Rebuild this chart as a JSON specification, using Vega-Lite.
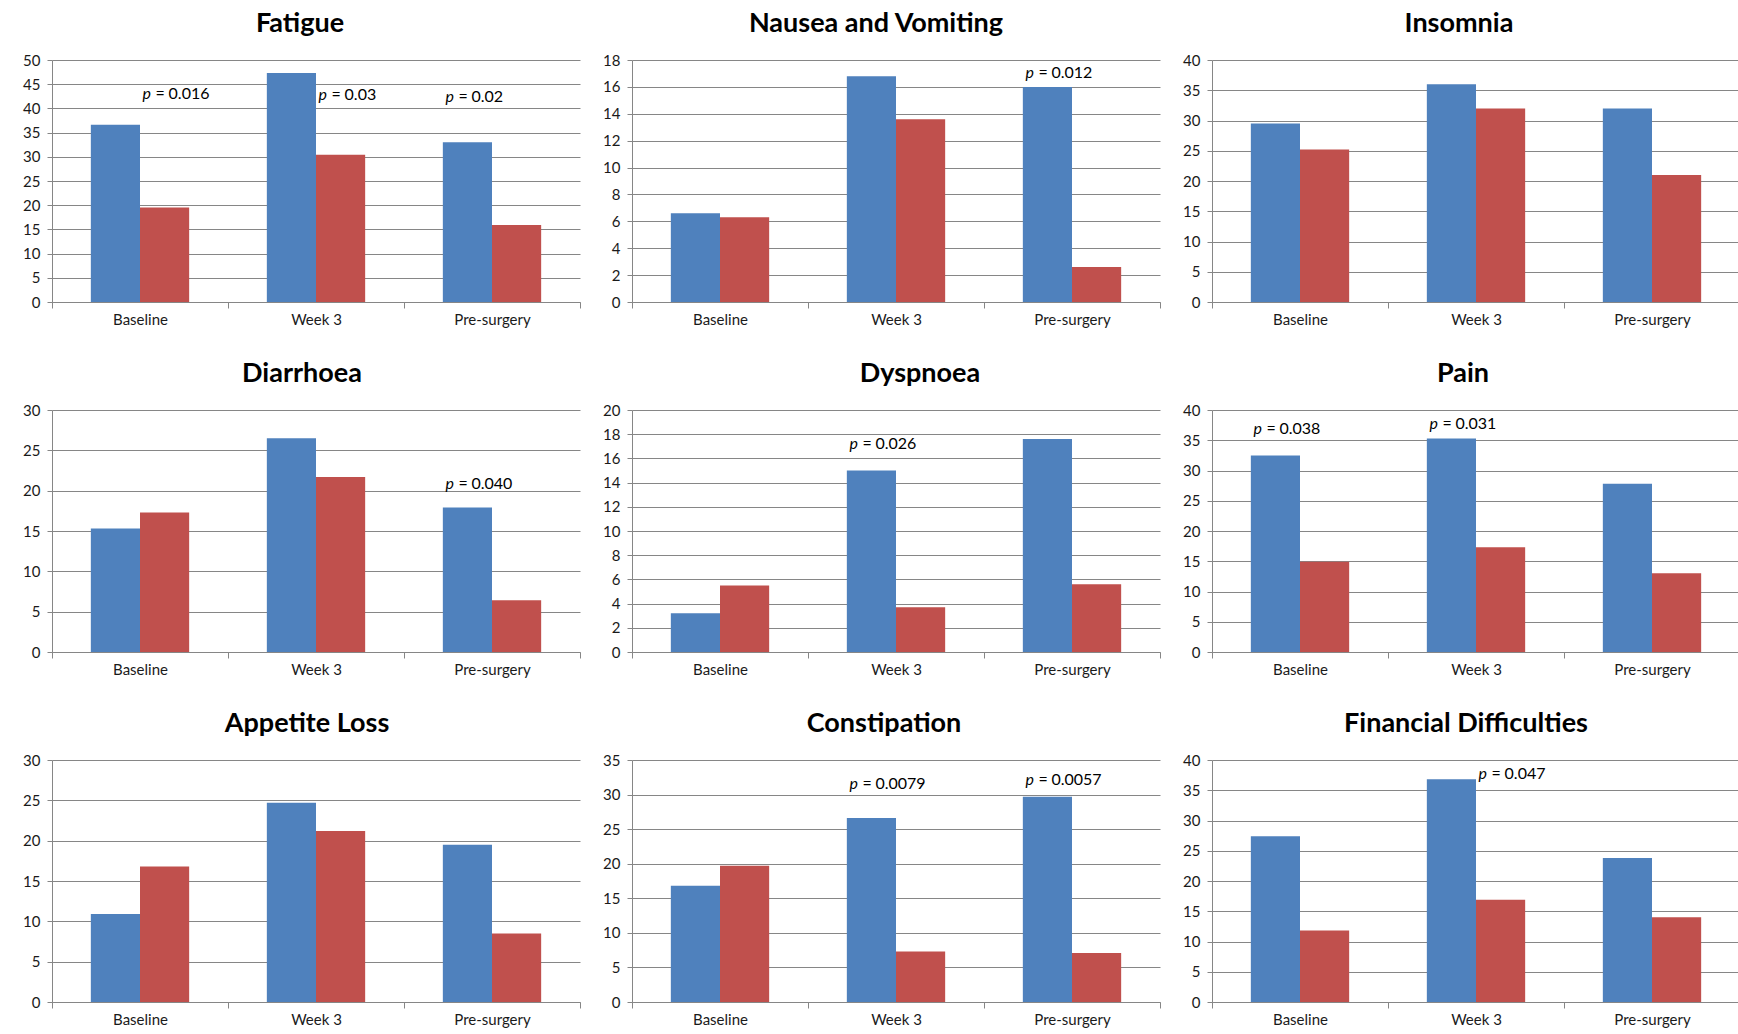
{
  "$schema": "https://vega.github.io/schema/vega-lite/v6.json",
  "background": "white",
  "padding": {"left": 22, "top": 10, "right": 5, "bottom": 5},
  "data": {"values": [
    {"panel": "Fatigue", "time": "Baseline", "group": "Series 1", "value": 36.6},
    {"panel": "Fatigue", "time": "Baseline", "group": "Series 2", "value": 19.5, "p": "0.016", "pY": 42.9},
    {"panel": "Fatigue", "time": "Week 3", "group": "Series 1", "value": 47.3},
    {"panel": "Fatigue", "time": "Week 3", "group": "Series 2", "value": 30.4, "p": "0.03", "pY": 42.7},
    {"panel": "Fatigue", "time": "Pre-surgery", "group": "Series 1", "value": 33.0, "p": "0.02", "pY": 42.4},
    {"panel": "Fatigue", "time": "Pre-surgery", "group": "Series 2", "value": 15.9},
    {"panel": "Nausea and Vomiting", "time": "Baseline", "group": "Series 1", "value": 6.6},
    {"panel": "Nausea and Vomiting", "time": "Baseline", "group": "Series 2", "value": 6.3},
    {"panel": "Nausea and Vomiting", "time": "Week 3", "group": "Series 1", "value": 16.8},
    {"panel": "Nausea and Vomiting", "time": "Week 3", "group": "Series 2", "value": 13.6},
    {"panel": "Nausea and Vomiting", "time": "Pre-surgery", "group": "Series 1", "value": 16.0, "p": "0.012", "pY": 17.0},
    {"panel": "Nausea and Vomiting", "time": "Pre-surgery", "group": "Series 2", "value": 2.6},
    {"panel": "Insomnia", "time": "Baseline", "group": "Series 1", "value": 29.5},
    {"panel": "Insomnia", "time": "Baseline", "group": "Series 2", "value": 25.2},
    {"panel": "Insomnia", "time": "Week 3", "group": "Series 1", "value": 36.0},
    {"panel": "Insomnia", "time": "Week 3", "group": "Series 2", "value": 32.0},
    {"panel": "Insomnia", "time": "Pre-surgery", "group": "Series 1", "value": 32.0},
    {"panel": "Insomnia", "time": "Pre-surgery", "group": "Series 2", "value": 21.0},
    {"panel": "Diarrhoea", "time": "Baseline", "group": "Series 1", "value": 15.3},
    {"panel": "Diarrhoea", "time": "Baseline", "group": "Series 2", "value": 17.3},
    {"panel": "Diarrhoea", "time": "Week 3", "group": "Series 1", "value": 26.5},
    {"panel": "Diarrhoea", "time": "Week 3", "group": "Series 2", "value": 21.7},
    {"panel": "Diarrhoea", "time": "Pre-surgery", "group": "Series 1", "value": 17.9, "p": "0.040", "pY": 20.8},
    {"panel": "Diarrhoea", "time": "Pre-surgery", "group": "Series 2", "value": 6.4},
    {"panel": "Dyspnoea", "time": "Baseline", "group": "Series 1", "value": 3.2},
    {"panel": "Dyspnoea", "time": "Baseline", "group": "Series 2", "value": 5.5},
    {"panel": "Dyspnoea", "time": "Week 3", "group": "Series 1", "value": 15.0, "p": "0.026", "pY": 17.2},
    {"panel": "Dyspnoea", "time": "Week 3", "group": "Series 2", "value": 3.7},
    {"panel": "Dyspnoea", "time": "Pre-surgery", "group": "Series 1", "value": 17.6},
    {"panel": "Dyspnoea", "time": "Pre-surgery", "group": "Series 2", "value": 5.6},
    {"panel": "Pain", "time": "Baseline", "group": "Series 1", "value": 32.5, "p": "0.038", "pY": 36.9},
    {"panel": "Pain", "time": "Baseline", "group": "Series 2", "value": 14.9},
    {"panel": "Pain", "time": "Week 3", "group": "Series 1", "value": 35.3, "p": "0.031", "pY": 37.7},
    {"panel": "Pain", "time": "Week 3", "group": "Series 2", "value": 17.3},
    {"panel": "Pain", "time": "Pre-surgery", "group": "Series 1", "value": 27.8},
    {"panel": "Pain", "time": "Pre-surgery", "group": "Series 2", "value": 13.0},
    {"panel": "Appetite Loss", "time": "Baseline", "group": "Series 1", "value": 10.9},
    {"panel": "Appetite Loss", "time": "Baseline", "group": "Series 2", "value": 16.8},
    {"panel": "Appetite Loss", "time": "Week 3", "group": "Series 1", "value": 24.7},
    {"panel": "Appetite Loss", "time": "Week 3", "group": "Series 2", "value": 21.2},
    {"panel": "Appetite Loss", "time": "Pre-surgery", "group": "Series 1", "value": 19.5},
    {"panel": "Appetite Loss", "time": "Pre-surgery", "group": "Series 2", "value": 8.5},
    {"panel": "Constipation", "time": "Baseline", "group": "Series 1", "value": 16.8},
    {"panel": "Constipation", "time": "Baseline", "group": "Series 2", "value": 19.7},
    {"panel": "Constipation", "time": "Week 3", "group": "Series 1", "value": 26.6, "p": "0.0079", "pY": 31.6},
    {"panel": "Constipation", "time": "Week 3", "group": "Series 2", "value": 7.3},
    {"panel": "Constipation", "time": "Pre-surgery", "group": "Series 1", "value": 29.7, "p": "0.0057", "pY": 32.1},
    {"panel": "Constipation", "time": "Pre-surgery", "group": "Series 2", "value": 7.1},
    {"panel": "Financial Difficulties", "time": "Baseline", "group": "Series 1", "value": 27.4},
    {"panel": "Financial Difficulties", "time": "Baseline", "group": "Series 2", "value": 11.8},
    {"panel": "Financial Difficulties", "time": "Week 3", "group": "Series 1", "value": 36.8},
    {"panel": "Financial Difficulties", "time": "Week 3", "group": "Series 2", "value": 16.9, "p": "0.047", "pY": 37.7},
    {"panel": "Financial Difficulties", "time": "Pre-surgery", "group": "Series 1", "value": 23.8},
    {"panel": "Financial Difficulties", "time": "Pre-surgery", "group": "Series 2", "value": 14.0}
  ]},
  "columns": 3,
  "spacing": {"row": 33, "column": 21},
  "concat": [
    {"title": {"text": "Fatigue", "dx": -16}, "width": 528, "height": 242,
     "transform": [{"filter": {"field": "panel", "equal": "Fatigue"}}],
     "encoding": {
       "x": {"field": "time", "type": "nominal", "title": null, "sort": ["Baseline", "Week 3", "Pre-surgery"], "scale": {"paddingInner": 0, "paddingOuter": 0}},
       "xOffset": {"field": "group", "type": "nominal", "sort": ["Series 1", "Series 2"], "scale": {"paddingInner": 0, "paddingOuter": 0.79}}
     },
     "layer": [
       {"mark": "bar", "encoding": {"y": {"field": "value", "type": "quantitative", "title": null, "scale": {"domain": [0, 50], "nice": false}, "axis": {"tickCount": 10}}, "color": {"field": "group", "type": "nominal", "scale": {"domain": ["Series 1", "Series 2"], "range": ["#4F81BD", "#C0504D"]}, "legend": null}}},
       {"transform": [{"filter": "isValid(datum.p)"}], "mark": {"type": "text", "text": "p", "fontStyle": "italic", "align": "left", "dx": -22}, "encoding": {"y": {"field": "pY", "type": "quantitative", "title": null, "scale": {"domain": [0, 50], "nice": false}}}},
       {"transform": [{"filter": "isValid(datum.p)"}], "mark": {"type": "text", "text": "=", "align": "left", "dx": -9}, "encoding": {"y": {"field": "pY", "type": "quantitative", "title": null, "scale": {"domain": [0, 50], "nice": false}}}},
       {"transform": [{"filter": "isValid(datum.p)"}], "mark": {"type": "text", "align": "left", "dx": 4}, "encoding": {"y": {"field": "pY", "type": "quantitative", "title": null, "scale": {"domain": [0, 50], "nice": false}}, "text": {"field": "p"}}}
     ]},
    {"title": {"text": "Nausea and Vomiting", "dx": -20}, "width": 528, "height": 242,
     "transform": [{"filter": {"field": "panel", "equal": "Nausea and Vomiting"}}],
     "encoding": {
       "x": {"field": "time", "type": "nominal", "title": null, "sort": ["Baseline", "Week 3", "Pre-surgery"], "scale": {"paddingInner": 0, "paddingOuter": 0}},
       "xOffset": {"field": "group", "type": "nominal", "sort": ["Series 1", "Series 2"], "scale": {"paddingInner": 0, "paddingOuter": 0.79}}
     },
     "layer": [
       {"mark": "bar", "encoding": {"y": {"field": "value", "type": "quantitative", "title": null, "scale": {"domain": [0, 18], "nice": false}, "axis": {"tickCount": 9}}, "color": {"field": "group", "type": "nominal", "scale": {"domain": ["Series 1", "Series 2"], "range": ["#4F81BD", "#C0504D"]}, "legend": null}}},
       {"transform": [{"filter": "isValid(datum.p)"}], "mark": {"type": "text", "text": "p", "fontStyle": "italic", "align": "left", "dx": -22}, "encoding": {"y": {"field": "pY", "type": "quantitative", "title": null, "scale": {"domain": [0, 18], "nice": false}}}},
       {"transform": [{"filter": "isValid(datum.p)"}], "mark": {"type": "text", "text": "=", "align": "left", "dx": -9}, "encoding": {"y": {"field": "pY", "type": "quantitative", "title": null, "scale": {"domain": [0, 18], "nice": false}}}},
       {"transform": [{"filter": "isValid(datum.p)"}], "mark": {"type": "text", "align": "left", "dx": 4}, "encoding": {"y": {"field": "pY", "type": "quantitative", "title": null, "scale": {"domain": [0, 18], "nice": false}}, "text": {"field": "p"}}}
     ]},
    {"title": {"text": "Insomnia", "dx": -17}, "width": 528, "height": 242,
     "transform": [{"filter": {"field": "panel", "equal": "Insomnia"}}],
     "encoding": {
       "x": {"field": "time", "type": "nominal", "title": null, "sort": ["Baseline", "Week 3", "Pre-surgery"], "scale": {"paddingInner": 0, "paddingOuter": 0}},
       "xOffset": {"field": "group", "type": "nominal", "sort": ["Series 1", "Series 2"], "scale": {"paddingInner": 0, "paddingOuter": 0.79}}
     },
     "layer": [
       {"mark": "bar", "encoding": {"y": {"field": "value", "type": "quantitative", "title": null, "scale": {"domain": [0, 40], "nice": false}, "axis": {"tickCount": 8}}, "color": {"field": "group", "type": "nominal", "scale": {"domain": ["Series 1", "Series 2"], "range": ["#4F81BD", "#C0504D"]}, "legend": null}}}
     ]},
    {"title": {"text": "Diarrhoea", "dx": -14}, "width": 528, "height": 242,
     "transform": [{"filter": {"field": "panel", "equal": "Diarrhoea"}}],
     "encoding": {
       "x": {"field": "time", "type": "nominal", "title": null, "sort": ["Baseline", "Week 3", "Pre-surgery"], "scale": {"paddingInner": 0, "paddingOuter": 0}},
       "xOffset": {"field": "group", "type": "nominal", "sort": ["Series 1", "Series 2"], "scale": {"paddingInner": 0, "paddingOuter": 0.79}}
     },
     "layer": [
       {"mark": "bar", "encoding": {"y": {"field": "value", "type": "quantitative", "title": null, "scale": {"domain": [0, 30], "nice": false}, "axis": {"tickCount": 6}}, "color": {"field": "group", "type": "nominal", "scale": {"domain": ["Series 1", "Series 2"], "range": ["#4F81BD", "#C0504D"]}, "legend": null}}},
       {"transform": [{"filter": "isValid(datum.p)"}], "mark": {"type": "text", "text": "p", "fontStyle": "italic", "align": "left", "dx": -22}, "encoding": {"y": {"field": "pY", "type": "quantitative", "title": null, "scale": {"domain": [0, 30], "nice": false}}}},
       {"transform": [{"filter": "isValid(datum.p)"}], "mark": {"type": "text", "text": "=", "align": "left", "dx": -9}, "encoding": {"y": {"field": "pY", "type": "quantitative", "title": null, "scale": {"domain": [0, 30], "nice": false}}}},
       {"transform": [{"filter": "isValid(datum.p)"}], "mark": {"type": "text", "align": "left", "dx": 4}, "encoding": {"y": {"field": "pY", "type": "quantitative", "title": null, "scale": {"domain": [0, 30], "nice": false}}, "text": {"field": "p"}}}
     ]},
    {"title": {"text": "Dyspnoea", "dx": 24}, "width": 528, "height": 242,
     "transform": [{"filter": {"field": "panel", "equal": "Dyspnoea"}}],
     "encoding": {
       "x": {"field": "time", "type": "nominal", "title": null, "sort": ["Baseline", "Week 3", "Pre-surgery"], "scale": {"paddingInner": 0, "paddingOuter": 0}},
       "xOffset": {"field": "group", "type": "nominal", "sort": ["Series 1", "Series 2"], "scale": {"paddingInner": 0, "paddingOuter": 0.79}}
     },
     "layer": [
       {"mark": "bar", "encoding": {"y": {"field": "value", "type": "quantitative", "title": null, "scale": {"domain": [0, 20], "nice": false}, "axis": {"tickCount": 10}}, "color": {"field": "group", "type": "nominal", "scale": {"domain": ["Series 1", "Series 2"], "range": ["#4F81BD", "#C0504D"]}, "legend": null}}},
       {"transform": [{"filter": "isValid(datum.p)"}], "mark": {"type": "text", "text": "p", "fontStyle": "italic", "align": "left", "dx": -22}, "encoding": {"y": {"field": "pY", "type": "quantitative", "title": null, "scale": {"domain": [0, 20], "nice": false}}}},
       {"transform": [{"filter": "isValid(datum.p)"}], "mark": {"type": "text", "text": "=", "align": "left", "dx": -9}, "encoding": {"y": {"field": "pY", "type": "quantitative", "title": null, "scale": {"domain": [0, 20], "nice": false}}}},
       {"transform": [{"filter": "isValid(datum.p)"}], "mark": {"type": "text", "align": "left", "dx": 4}, "encoding": {"y": {"field": "pY", "type": "quantitative", "title": null, "scale": {"domain": [0, 20], "nice": false}}, "text": {"field": "p"}}}
     ]},
    {"title": {"text": "Pain", "dx": -13}, "width": 528, "height": 242,
     "transform": [{"filter": {"field": "panel", "equal": "Pain"}}],
     "encoding": {
       "x": {"field": "time", "type": "nominal", "title": null, "sort": ["Baseline", "Week 3", "Pre-surgery"], "scale": {"paddingInner": 0, "paddingOuter": 0}},
       "xOffset": {"field": "group", "type": "nominal", "sort": ["Series 1", "Series 2"], "scale": {"paddingInner": 0, "paddingOuter": 0.79}}
     },
     "layer": [
       {"mark": "bar", "encoding": {"y": {"field": "value", "type": "quantitative", "title": null, "scale": {"domain": [0, 40], "nice": false}, "axis": {"tickCount": 8}}, "color": {"field": "group", "type": "nominal", "scale": {"domain": ["Series 1", "Series 2"], "range": ["#4F81BD", "#C0504D"]}, "legend": null}}},
       {"transform": [{"filter": "isValid(datum.p)"}], "mark": {"type": "text", "text": "p", "fontStyle": "italic", "align": "left", "dx": -22}, "encoding": {"y": {"field": "pY", "type": "quantitative", "title": null, "scale": {"domain": [0, 40], "nice": false}}}},
       {"transform": [{"filter": "isValid(datum.p)"}], "mark": {"type": "text", "text": "=", "align": "left", "dx": -9}, "encoding": {"y": {"field": "pY", "type": "quantitative", "title": null, "scale": {"domain": [0, 40], "nice": false}}}},
       {"transform": [{"filter": "isValid(datum.p)"}], "mark": {"type": "text", "align": "left", "dx": 4}, "encoding": {"y": {"field": "pY", "type": "quantitative", "title": null, "scale": {"domain": [0, 40], "nice": false}}, "text": {"field": "p"}}}
     ]},
    {"title": {"text": "Appetite Loss", "dx": -9}, "width": 528, "height": 242,
     "transform": [{"filter": {"field": "panel", "equal": "Appetite Loss"}}],
     "encoding": {
       "x": {"field": "time", "type": "nominal", "title": null, "sort": ["Baseline", "Week 3", "Pre-surgery"], "scale": {"paddingInner": 0, "paddingOuter": 0}},
       "xOffset": {"field": "group", "type": "nominal", "sort": ["Series 1", "Series 2"], "scale": {"paddingInner": 0, "paddingOuter": 0.79}}
     },
     "layer": [
       {"mark": "bar", "encoding": {"y": {"field": "value", "type": "quantitative", "title": null, "scale": {"domain": [0, 30], "nice": false}, "axis": {"tickCount": 6}}, "color": {"field": "group", "type": "nominal", "scale": {"domain": ["Series 1", "Series 2"], "range": ["#4F81BD", "#C0504D"]}, "legend": null}}}
     ]},
    {"title": {"text": "Constipation", "dx": -12}, "width": 528, "height": 242,
     "transform": [{"filter": {"field": "panel", "equal": "Constipation"}}],
     "encoding": {
       "x": {"field": "time", "type": "nominal", "title": null, "sort": ["Baseline", "Week 3", "Pre-surgery"], "scale": {"paddingInner": 0, "paddingOuter": 0}},
       "xOffset": {"field": "group", "type": "nominal", "sort": ["Series 1", "Series 2"], "scale": {"paddingInner": 0, "paddingOuter": 0.79}}
     },
     "layer": [
       {"mark": "bar", "encoding": {"y": {"field": "value", "type": "quantitative", "title": null, "scale": {"domain": [0, 35], "nice": false}, "axis": {"tickCount": 7}}, "color": {"field": "group", "type": "nominal", "scale": {"domain": ["Series 1", "Series 2"], "range": ["#4F81BD", "#C0504D"]}, "legend": null}}},
       {"transform": [{"filter": "isValid(datum.p)"}], "mark": {"type": "text", "text": "p", "fontStyle": "italic", "align": "left", "dx": -22}, "encoding": {"y": {"field": "pY", "type": "quantitative", "title": null, "scale": {"domain": [0, 35], "nice": false}}}},
       {"transform": [{"filter": "isValid(datum.p)"}], "mark": {"type": "text", "text": "=", "align": "left", "dx": -9}, "encoding": {"y": {"field": "pY", "type": "quantitative", "title": null, "scale": {"domain": [0, 35], "nice": false}}}},
       {"transform": [{"filter": "isValid(datum.p)"}], "mark": {"type": "text", "align": "left", "dx": 4}, "encoding": {"y": {"field": "pY", "type": "quantitative", "title": null, "scale": {"domain": [0, 35], "nice": false}}, "text": {"field": "p"}}}
     ]},
    {"title": {"text": "Financial Difficulties", "dx": -10}, "width": 528, "height": 242,
     "transform": [{"filter": {"field": "panel", "equal": "Financial Difficulties"}}],
     "encoding": {
       "x": {"field": "time", "type": "nominal", "title": null, "sort": ["Baseline", "Week 3", "Pre-surgery"], "scale": {"paddingInner": 0, "paddingOuter": 0}},
       "xOffset": {"field": "group", "type": "nominal", "sort": ["Series 1", "Series 2"], "scale": {"paddingInner": 0, "paddingOuter": 0.79}}
     },
     "layer": [
       {"mark": "bar", "encoding": {"y": {"field": "value", "type": "quantitative", "title": null, "scale": {"domain": [0, 40], "nice": false}, "axis": {"tickCount": 8}}, "color": {"field": "group", "type": "nominal", "scale": {"domain": ["Series 1", "Series 2"], "range": ["#4F81BD", "#C0504D"]}, "legend": null}}},
       {"transform": [{"filter": "isValid(datum.p)"}], "mark": {"type": "text", "text": "p", "fontStyle": "italic", "align": "left", "dx": -22}, "encoding": {"y": {"field": "pY", "type": "quantitative", "title": null, "scale": {"domain": [0, 40], "nice": false}}}},
       {"transform": [{"filter": "isValid(datum.p)"}], "mark": {"type": "text", "text": "=", "align": "left", "dx": -9}, "encoding": {"y": {"field": "pY", "type": "quantitative", "title": null, "scale": {"domain": [0, 40], "nice": false}}}},
       {"transform": [{"filter": "isValid(datum.p)"}], "mark": {"type": "text", "align": "left", "dx": 4}, "encoding": {"y": {"field": "pY", "type": "quantitative", "title": null, "scale": {"domain": [0, 40], "nice": false}}, "text": {"field": "p"}}}
     ]}
  ],
  "config": {
    "view": {"stroke": null},
    "font": "Lato",
    "axis": {"labelFont": "Lato", "labelColor": "#1a1a1a", "domainColor": "#868686", "tickColor": "#868686", "gridColor": "#868686", "gridOpacity": 1, "domainWidth": 1, "gridWidth": 1, "tickWidth": 1},
    "axisX": {"labelFontSize": 15, "labelAngle": 0, "tickBand": "extent", "tickSize": 6, "grid": false, "labelPadding": 4},
    "axisY": {"labelFontSize": 15, "tickSize": 5, "grid": true, "labelPadding": 7},
    "title": {"font": "Lato", "fontSize": 27, "fontWeight": "bold", "color": "#000000", "offset": 15, "anchor": "middle"},
    "text": {"font": "Lato", "fontSize": 16, "color": "#000000", "baseline": "middle"}
  }
}
